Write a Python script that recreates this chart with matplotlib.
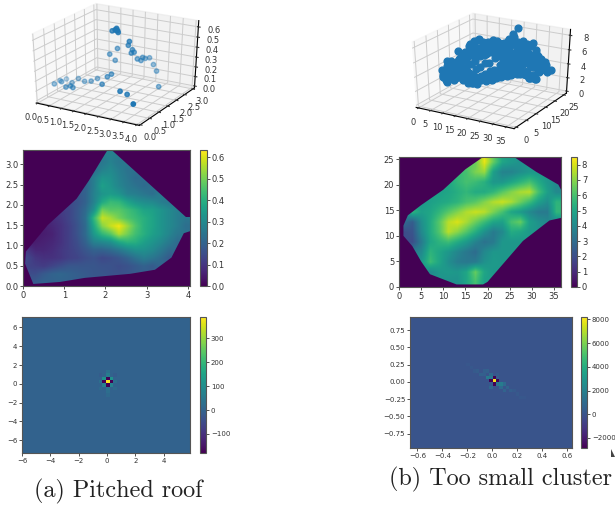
import numpy as np
import matplotlib
matplotlib.use("Agg")
import matplotlib.pyplot as plt
from matplotlib.patches import Polygon

W, H = 615, 508

# --- (a) pitched roof points
roof_x = [0.11,0.10,0.32,0.21,0.64,0.71,0.59,0.88,0.72,1.01,1.25,1.41,1.85,1.88,1.97,2.74,2.96,3.50,3.45,3.09,
          2.91,2.69,2.59,2.57,2.48,2.56,2.34,2.30,2.26,2.17,2.27,1.74,1.77,1.54,1.62,1.77,1.85,1.89,1.89,1.84]
roof_y = [0.68,0.98,0.80,1.17,0.63,0.77,1.00,0.69,1.17,1.13,1.17,1.30,0.98,1.22,1.32,0.76,0.84,0.44,1.90,2.27,
          2.34,2.42,2.32,2.11,2.03,2.21,2.04,1.94,2.05,1.95,1.87,1.94,1.78,1.79,1.82,1.78,1.75,1.75,1.78,1.76]
roof_z = [0.10,0.10,0.12,0.10,0.10,0.10,0.10,0.10,0.13,0.12,0.13,0.15,0.15,0.20,0.22,0.15,0.12,0.10,0.10,0.20,
          0.25,0.30,0.30,0.30,0.32,0.32,0.38,0.38,0.40,0.45,0.50,0.40,0.30,0.35,0.58,0.60,0.62,0.60,0.58,0.60]

# --- (a) height grid, top row first
roof_grid = [
 [0,0,0,0,0,0,0,0,0,0,.28,0,0,0,0,0,0,0,0,0],
 [0,0,0,0,0,0,0,0,0,.25,.28,.25,0,0,0,0,0,0,0,0],
 [0,0,0,0,0,0,0,0,.22,.28,.30,.27,.24,0,0,0,0,0,0,0],
 [0,0,0,0,0,0,0,.20,.27,.33,.32,.28,.25,.22,0,0,0,0,0,0],
 [0,0,0,0,0,0,0,.20,.27,.36,.33,.29,.26,.24,.22,0,0,0,0,0],
 [0,0,0,0,0,0,.17,.20,.28,.33,.35,.33,.28,.27,.25,.23,0,0,0,0],
 [0,0,0,0,0,.14,.16,.20,.28,.38,.43,.42,.37,.33,.31,.30,.27,.25,0,0],
 [0,0,0,0,.11,.13,.17,.22,.32,.50,.47,.47,.44,.41,.37,.36,.33,.30,.27,0],
 [0,0,0,.08,.10,.13,.17,.23,.42,.58,.55,.50,.46,.43,.40,.37,.33,.30,.27,.25],
 [0,0,.05,.07,.09,.12,.16,.22,.38,.52,.58,.62,.54,.46,.40,.37,.33,.30,.27,.23],
 [0,.04,.05,.06,.09,.12,.16,.22,.34,.42,.47,.56,.50,.44,.40,.36,.33,.29,.25,0],
 [.04,.05,.06,.07,.09,.12,.15,.20,.28,.30,.32,.38,.41,.40,.36,.33,.30,.26,.22,0],
 [.10,.07,.07,.08,.10,.12,.14,.17,.20,.20,.22,.25,.29,.32,.32,.30,.26,.22,0,0],
 [.14,.10,.09,.09,.10,.12,.13,.15,.16,.14,.15,.17,.20,.24,.27,.25,.22,.18,0,0],
 [0,.12,.11,.13,.15,.17,.17,.17,.17,.16,.16,.15,.16,.18,.20,.18,0,0,0,0],
 [0,.15,.18,.20,.21,.20,.19,.18,.17,.17,0,0,0,0,0,0,0,0,0,0],
 [0,.18,.20,.20,0,0,0,0,0,0,0,0,0,0,0,0,0,0,0,0],
]
roof_outline_x = [2.05,2.15,3.95,4.05,4.05,3.9,3.6,3.2,2.6,1.5,0.9,0.25,0.15,0.05,0.07,0.6,1.3,1.6]
roof_outline_y = [3.35,3.35,1.7,1.7,1.35,1.3,0.7,0.4,0.3,0.2,0.1,0.05,0.3,0.55,0.85,1.5,2.15,2.6]

# --- (b) height grid, top row first
small_grid = [
 [0,0,0,0,0,0,0,0,6.5,8.2,6.5,5.0,4.6,0,0,0,0,0],
 [0,0,0,0,0,0,0,6.0,6.8,7.2,4.8,3.8,3.8,4.2,4.5,4.5,0,0],
 [0,0,0,0,0,5.0,5.6,6.0,5.8,5.4,4.5,4.5,5.0,5.5,6.0,5.2,4.5,4.0],
 [0,0,0,0,4.8,5.0,5.3,5.6,5.2,5.2,5.6,6.3,6.9,7.4,7.6,6.0,4.8,4.0],
 [0,0,4.5,4.8,5.0,5.2,5.5,6.0,6.3,6.9,7.5,7.8,7.4,6.6,5.8,4.8,4.2,5.5],
 [0,5.5,4.8,5.0,5.6,6.3,6.9,7.5,7.8,7.6,6.8,6.0,5.0,4.6,4.0,3.5,3.5,5.6],
 [0,2.5,4.2,5.2,6.3,7.6,8.0,7.4,6.6,5.8,5.0,4.8,6.0,6.5,4.8,4.3,4.0,4.0],
 [2.0,2.2,4.0,5.2,6.2,7.6,7.0,6.2,5.3,4.3,3.5,4.0,5.2,5.0,4.6,0,0,0],
 [0,2.0,3.5,5.0,5.5,5.8,5.2,4.6,3.8,3.2,3.5,4.5,4.5,4.5,0,0,0,0],
 [0,0,4.0,5.5,5.0,4.5,3.9,3.4,3.0,4.0,4.5,4.5,4.5,0,0,0,0,0],
 [0,0,4.5,5.8,5.0,4.2,3.6,3.4,3.5,4.3,4.6,4.5,0,0,0,0,0,0],
 [0,0,0,4.0,4.5,4.6,4.5,5.0,6.5,5.0,4.5,0,0,0,0,0,0,0],
 [0,0,0,0,0,4.3,4.3,5.0,6.0,4.8,0,0,0,0,0,0,0,0],
]
small_outline_x = [19,26,31,36,36.6,36.6,34,28,24,20,19,13,10,7,5,3,1,1,2,5,10,15]
small_outline_y = [25.4,25.4,22.5,20,19,13.5,13,9,5,1,0.5,0.5,1.5,2.5,5,8,10,12,14,16,19,23]

# --- (b) further cloud points between the grid rows: height, first x, heights at 2-unit steps
cloud_y = [23.4,21.5,19.5,17.5,15.6,13.6,11.7,9.7,7.8,5.9,3.9,2.0]
cloud_x0 = [16,12,10,6,4,4,2,2,4,6,6,10]
cloud_z = [
 [6.3,7.5,6.5,4.5,4.2,4.2],
 [5.2,5.7,6.3,6.5,5.0,4.2,4.2,4.6,5.0,5.0,4.5],
 [4.9,5.2,5.6,5.6,5.3,5.1,5.2,5.8,6.4,7.0,6.5,5.0,4.2],
 [4.6,4.9,5.1,5.4,5.7,5.9,6.0,6.6,7.0,7.3,7.2,6.8,6.0,4.7,4.4],
 [5.0,4.9,5.3,5.8,6.3,6.9,7.4,7.6,7.4,6.9,6.3,5.6,5.0,4.2,3.8,4.5],
 [4.5,5.0,5.8,7.0,7.7,7.6,7.3,6.8,6.0,5.5,5.2,5.8,5.2,4.2,3.8],
 [2.2,3.5,4.8,5.8,7.0,7.6,7.0,6.2,5.2,4.4,4.2,5.0,5.8,5.0,4.5],
 [2.0,3.0,4.6,5.6,6.5,6.4,5.6,4.9,4.0,3.4,4.0,4.8,4.8,4.6],
 [3.5,5.0,5.3,5.2,4.6,4.0,3.4,3.4,4.0,4.5,4.5,4.5],
 [5.0,5.5,4.7,4.0,3.5,3.2,3.7,4.4,4.5,4.5],
 [4.0,5.0,4.6,4.1,4.0,4.8,4.8,4.6,4.5],
 [4.5,4.4,4.6,5.7,5.6,4.7],
]

# --- spectra: cell offsets from the centre and their values
fft_a_dx = [0,-1,1,0,0,-1,1,-1,1,0,0,2,-2,0,0,0,-2,2,-2,2]
fft_a_dy = [0,0,0,-1,1,1,1,-1,-1,2,-2,0,0,3,-3,-4,-2,2,2,-2]
fft_a_v  = [390,-180,-180,-180,-180,110,110,70,70,60,40,25,30,30,25,15,15,-15,-15,15]
fft_b_dx = [0,-1,1,0,0,-1,1,-2,2,3,-1,-3,-2,2,3,-3,-1,1,1,-1,-4,-5,-6,-7,-8,4,5,6,7,8,9]
fft_b_dy = [0,0,0,-1,1,1,-1,1,-1,-1,2,2,3,-2,-3,3,-2,2,1,-1,2,3,3,4,5,-2,-3,-3,-4,-5,-5]
fft_b_v  = [8000,-2800,-2800,-2800,-2800,1500,1500,1800,1800,1000,1000,500,600,1000,700,500,900,300,400,300,
            600,400,300,200,150,700,500,300,250,200,150]

caption_a = "(a) Pitched roof"
caption_b = "(b) Too small cluster"

TEXT = "#333333"
SPINE = "#555555"
fig = plt.figure(figsize=(W/100, H/100), dpi=100)


def rect(x0, y0, x1, y1):
    return [x0/W, 1 - y1/H, (x1-x0)/W, (y1-y0)/H]


def style(ax, fs=6):
    ax.tick_params(labelsize=fs, length=2, width=0.6, pad=1.5, colors=TEXT)
    for s in ax.spines.values():
        s.set_color(SPINE)
        s.set_linewidth(0.8)


def fill_outward(grid):
    """Spread the typed values over the empty cells so that the outline alone sets the edge."""
    g = np.array(grid, float)
    while (g == 0).any():
        out = g.copy()
        for r, c in zip(*np.nonzero(g == 0)):
            near = g[max(r-1, 0):r+2, max(c-1, 0):c+2]
            near = near[near > 0]
            if near.size:
                out[r, c] = near.mean()
        g = out
    return g


def heat(ax_px, cb_px, data, extent, vmin, vmax, cticks, fs=6, interp="bilinear", outline=None):
    ax = fig.add_axes(rect(*ax_px))
    im = ax.imshow(data, extent=extent, origin="upper", aspect="auto", cmap="viridis",
                   vmin=vmin, vmax=vmax, interpolation=interp)
    if outline is not None:
        ax.set_facecolor(plt.get_cmap("viridis")(0.0))
        clip = Polygon(np.column_stack(outline), closed=True, transform=ax.transData)
        im.set_clip_path(clip)
    style(ax, fs)
    cax = fig.add_axes(rect(*cb_px))
    cb = fig.colorbar(im, cax=cax, ticks=cticks)
    style(cax, fs)
    cb.outline.set_edgecolor(SPINE)
    return ax


def scatter3(ax_px, xs, ys, zs, lims, ticks, s, shade=True):
    ax = fig.add_axes(rect(*ax_px), projection="3d")
    # let the cube stretch with the axes rectangle, as older matplotlib drew it
    ax.apply_aspect = lambda position=None: None
    ax.set_box_aspect((1, 1, 1), zoom=1.0)
    ax.patch.set_alpha(0)
    ax.view_init(elev=30, azim=-60)
    ax.scatter(xs, ys, zs, s=s, color="#1f77b4", depthshade=shade)
    ax.set_xlim(*lims[0]); ax.set_ylim(*lims[1]); ax.set_zlim(*lims[2])
    ax.set_xticks(ticks[0]); ax.set_yticks(ticks[1]); ax.set_zticks(ticks[2])
    ax.tick_params(labelsize=6, pad=-2, colors=TEXT)
    for a in (ax.xaxis, ax.yaxis, ax.zaxis):
        a._axinfo["grid"]["linewidth"] = 0.7
        a._axinfo["grid"]["color"] = "#cccccc"
    return ax


# 3D panels
scatter3((14, -2, 214, 130), roof_x, roof_y, roof_z,
         ((-0.05, 4.1), (-0.05, 3.1), (-0.02, 0.66)),
         (np.arange(0, 4.1, 0.5), np.arange(0, 3.1, 0.5), np.arange(0, 0.61, 0.1)), 10)

sg = np.array(small_grid)
rows, cols = np.nonzero(sg)
small_x = list((cols + 0.5) * 36.6 / sg.shape[1])
small_y = list(25.4 - (rows + 0.5) * 25.4 / sg.shape[0])
small_z = list(sg[rows, cols])
for yy, x0, zz in zip(cloud_y, cloud_x0, cloud_z):
    for k, z in enumerate(zz):
        small_x.append(x0 + 2 * k)
        small_y.append(yy)
        small_z.append(z)
scatter3((395, 8, 585, 133), small_x, small_y, small_z,
         ((-1, 38), (-1, 26.5), (-0.3, 8.8)),
         (np.arange(0, 36, 5), np.arange(0, 26, 5), np.arange(0, 9, 2)), 24, shade=False)

# Height maps
a = heat((23, 150, 190, 286), (200.5, 150, 207, 286), fill_outward(roof_grid),
         (0, 4.05, 0, 3.35), 0, 0.635, np.arange(0, 0.61, 0.1),
         outline=(roof_outline_x, roof_outline_y))
a.set_xticks(range(5)); a.set_yticks(np.arange(0, 3.1, 0.5))
b = heat((399, 157, 561, 287), (571, 157, 577, 287), fill_outward(small_grid),
         (0, 36.6, 0, 25.4), 0, 8.5, range(0, 9),
         outline=(small_outline_x, small_outline_y))
b.set_xticks(range(0, 36, 5)); b.set_yticks(range(0, 26, 5))

# Spectra
fa = np.zeros((41, 46))
for dx, dy, v in zip(fft_a_dx, fft_a_dy, fft_a_v):
    fa[19 - dy, 23 + dx] = v
c = heat((22, 317, 190, 453), (200, 317, 206, 453), fa,
         (-6, 5.85, -7.35, 7.1), -180, 390, [-100, 0, 100, 200, 300], fs=5, interp="nearest")
c.set_xticks(range(-6, 5, 2)); c.set_yticks(range(-6, 7, 2))

fb = np.zeros((40, 49))
for dx, dy, v in zip(fft_b_dx, fft_b_dy, fft_b_v):
    fb[19 - dy, 25 + dx] = v
d = heat((410, 317, 572, 448), (581, 317, 587, 448), fb,
         (-0.66, 0.64, -0.96, 0.94), -2850, 8200, range(-2000, 8001, 2000), fs=5, interp="nearest")
d.set_xticks(np.arange(-0.6, 0.61, 0.2))
d.set_yticks(np.arange(-0.75, 0.76, 0.25))

# Captions
fig.text(34/W, 1 - 497/H, caption_a, family="cmr10", fontsize=17.4, color="#222222", va="baseline")
fig.text(389/W, 1 - 485/H, caption_b, family="cmr10", fontsize=17.4, color="#222222", va="baseline")

# Corner cursor fragment
fig.add_artist(Polygon([(611/W, 1-449/H), (611/W, 1-457/H), (615/W, 1-457/H)],
                       closed=True, transform=fig.transFigure, fc="#444444", ec="none"))

fig.savefig("out.png", dpi=100)
